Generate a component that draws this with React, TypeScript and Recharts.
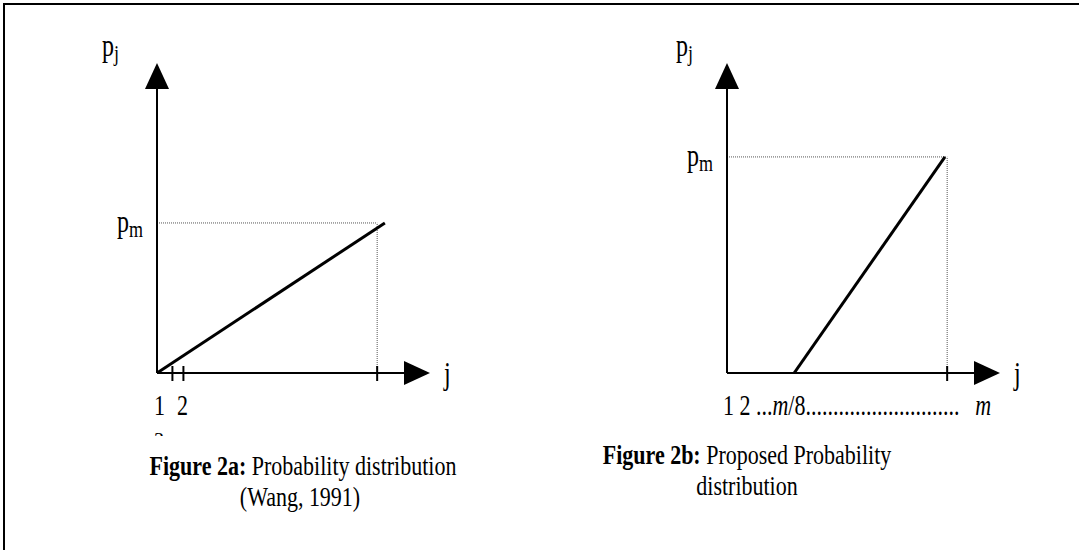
import React from 'react';
import { LineChart, Line, XAxis, YAxis, ReferenceLine, ReferenceDot } from 'recharts';

// j axis runs 0..jMax, p axis 0..pMax; m is the last tick
const jMax = 24.8;
const pMax = 1;
const m = 20;

// Figure 2a (Wang, 1991)
const leftJ = [0, 20.7];
const leftP = [0, 0.484];
const leftPm = 0.484;
const leftTicks = [1.4, 2.4, 20];

// Figure 2b (proposed)
const rightJ = [6.1, 19.8];
const rightP = [0, 0.697];
const rightPm = 0.697;
const rightTicks = [20];

const leftXLabels = ['1', '2'];
const rightXLabel = ['1 2 ...', 'm', '/8............................', 'm'];

const captionA = ['Figure 2a:', ' Probability distribution', '(Wang, 1991)'];
const captionB = ['Figure 2b:', ' Proposed Probability', 'distribution'];

const FONT = '"Liberation Serif", "Times New Roman", serif';
const STRETCH = 1.3; // the scan's text is taller than it is wide

const Txt = ({ x, y, size = 22, anchor = 'start', stretch = STRETCH, children, ...rest }: any) => (
    <text
        transform={`translate(${x} ${y}) scale(1 ${stretch})`}
        x={0}
        y={0}
        textAnchor={anchor}
        fontFamily={FONT}
        fontSize={size}
        fill="#000"
        {...rest}
    >
        {children}
    </text>
);

const ArrowLine = (props: any) => {
    const { x1, y1, x2, y2 } = props;
    const dx = x2 - x1;
    const dy = y2 - y1;
    const len = Math.hypot(dx, dy) || 1;
    const ux = dx / len;
    const uy = dy / len;
    const head = 26;
    const half = 12;
    const bx = x2 - ux * head;
    const by = y2 - uy * head;
    const px = -uy;
    const py = ux;
    return (
        <g>
            <line x1={x1} y1={y1} x2={bx} y2={by} stroke="#000" strokeWidth={2} />
            <polygon
                points={`${x2},${y2} ${bx + px * half},${by + py * half} ${bx - px * half},${by - py * half}`}
                fill="#000"
            />
        </g>
    );
};

const TickMark = (props: any) => (
    <line x1={props.cx} x2={props.cx} y1={props.cy - 7} y2={props.cy + 8} stroke="#000" strokeWidth={2} />
);

const SubLabel = ({ cx, cy, main, sub, dx, dy }: any) => (
    <Txt x={cx + dx} y={cy + dy} size={24} anchor="end">
        {main}
        <tspan fontSize={18} dy={4}>{sub}</tspan>
    </Txt>
);

const Panel = ({ js, ps, pm, ticks, xLabel, pjDx }: any) => {
    const data = js.map((j: number, i: number) => ({ j, p: ps[i] }));
    return (
        <LineChart width={540} height={440} data={data} margin={{ top: 63, right: 110, bottom: 67, left: 157 }}>
            <XAxis type="number" dataKey="j" domain={[0, jMax]} allowDataOverflow hide />
            <YAxis type="number" domain={[0, pMax]} allowDataOverflow hide />
            <ReferenceLine
                segment={[{ x: 0, y: pm }, { x: m, y: pm }]}
                stroke="#555"
                strokeWidth={1}
                strokeDasharray="1 1"
                ifOverflow="visible"
            />
            <ReferenceLine
                segment={[{ x: m, y: 0 }, { x: m, y: pm }]}
                stroke="#555"
                strokeWidth={1}
                strokeDasharray="1 1"
                ifOverflow="visible"
            />
            <ReferenceLine segment={[{ x: 0, y: 0 }, { x: 0, y: pMax }]} shape={ArrowLine} ifOverflow="visible" />
            <ReferenceLine segment={[{ x: 0, y: 0 }, { x: jMax, y: 0 }]} shape={ArrowLine} ifOverflow="visible" />
            {ticks.map((t: number) => (
                <ReferenceDot key={t} x={t} y={0} r={0} ifOverflow="visible" shape={TickMark} />
            ))}
            <ReferenceDot
                x={0}
                y={pMax}
                r={0}
                ifOverflow="visible"
                shape={(p: any) => <SubLabel {...p} main="p" sub="j" dx={pjDx} dy={-7} />}
            />
            <ReferenceDot
                x={0}
                y={pm}
                r={0}
                ifOverflow="visible"
                shape={(p: any) => <SubLabel {...p} main="p" sub="m" dx={-14} dy={9} />}
            />
            <ReferenceDot
                x={jMax}
                y={0}
                r={0}
                ifOverflow="visible"
                shape={(p: any) => (
                    <Txt x={p.cx + 14} y={p.cy + 11} size={24}>j</Txt>
                )}
            />
            <ReferenceDot x={0} y={0} r={0} ifOverflow="visible" shape={xLabel} />
            <Line
                type="linear"
                dataKey="p"
                stroke="#000"
                strokeWidth={3}
                dot={false}
                activeDot={false}
                isAnimationActive={false}
            />
        </LineChart>
    );
};

// the next row of the left tick labels is cut off in the source, only its top shows
const LeftXLabel = (p: any) => (
    <g>
        <defs>
            <clipPath id="cut-next-row">
                <rect x={p.cx - 20} y={p.cy + 55} width={60} height={8} />
            </clipPath>
        </defs>
        <Txt x={p.cx - 3} y={p.cy + 42}>{leftXLabels[0]}</Txt>
        <Txt x={p.cx + 20} y={p.cy + 42}>{leftXLabels[1]}</Txt>
        <g clipPath="url(#cut-next-row)">
            <Txt x={p.cx - 3} y={p.cy + 74} size={20} stretch={1}>3</Txt>
        </g>
    </g>
);

const RightXLabel = (p: any) => (
    <Txt x={p.cx - 4} y={p.cy + 42}>
        {rightXLabel[0]}
        <tspan fontStyle="italic">{rightXLabel[1]}</tspan>
        {rightXLabel[2]}
        <tspan fontStyle="italic" dx={16}>{rightXLabel[3]}</tspan>
    </Txt>
);

export default function App() {
    return (
        <div style={{ position: 'absolute', left: 0, top: 0, width: 1079, height: 550, background: '#fff', overflow: 'hidden' }}>
            <div
                style={{
                    position: 'absolute',
                    left: 3,
                    top: 3,
                    width: 1080,
                    height: 550,
                    borderTop: '2px solid #000',
                    borderLeft: '2px solid #000',
                }}
            />
            <div style={{ position: 'absolute', left: 0, top: 0 }}>
                <Panel js={leftJ} ps={leftP} pm={leftPm} ticks={leftTicks} xLabel={LeftXLabel} pjDx={-38} />
            </div>
            <div style={{ position: 'absolute', left: 570, top: 0 }}>
                <Panel js={rightJ} ps={rightP} pm={rightPm} ticks={rightTicks} xLabel={RightXLabel} pjDx={-34} />
            </div>
            <svg width={1079} height={550} style={{ position: 'absolute', left: 0, top: 0, pointerEvents: 'none' }}>
                <Txt x={303} y={475} anchor="middle" stretch={1.25}>
                    <tspan fontWeight="bold">{captionA[0]}</tspan>
                    {captionA[1]}
                </Txt>
                <Txt x={300} y={506} anchor="middle" stretch={1.25}>{captionA[2]}</Txt>
                <Txt x={747} y={464} anchor="middle" stretch={1.25}>
                    <tspan fontWeight="bold">{captionB[0]}</tspan>
                    {captionB[1]}
                </Txt>
                <Txt x={747} y={495} anchor="middle" stretch={1.25}>{captionB[2]}</Txt>
            </svg>
        </div>
    );
}
